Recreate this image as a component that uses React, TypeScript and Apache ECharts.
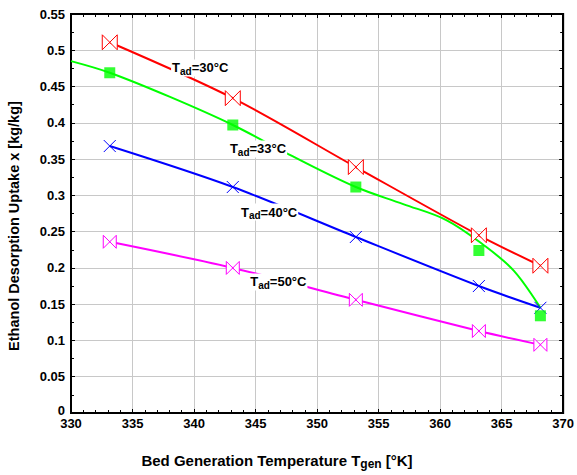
import React, { useEffect, useRef } from "react";
import * as echarts from "echarts";

const temps = [333.15, 343.15, 353.15, 363.15, 368.15];
const uptake30 = [0.511, 0.434, 0.339, 0.245, 0.203];
const uptake33 = [0.469, 0.397, 0.3115, 0.224, 0.134];
const uptake40 = [0.368, 0.3115, 0.2426, 0.175, 0.145];
const uptake50 = [0.236, 0.2, 0.156, 0.113, 0.094];
const fit33T = [330, 333.15, 338, 343.15, 348, 353.15, 357, 360.5, 363.5, 366, 368.15];
const fit33X = [0.485, 0.469, 0.436, 0.397, 0.354, 0.3115, 0.288, 0.266, 0.232, 0.196, 0.145];
const xTicks = { min: 330, max: 370, interval: 5 };
const yTicks = { min: 0, max: 0.55, interval: 0.05 };
const labels = [
  { t: 340.5, v: 0.4756, temp: "30" },
  { t: 345.2, v: 0.364, temp: "33" },
  { t: 346.1, v: 0.277, temp: "40" },
  { t: 346.85, v: 0.1806, temp: "50" },
];

const FONT = "Liberation Sans, Arial, sans-serif";
const bowtie = "path://M0,0L10,10L10,0L0,10Z";
const cross = "path://M0,0L10,10M10,0L0,10";

const pair = (xs: number[], ys: number[]) => xs.map((x, i) => [x, ys[i]]);

export default function App() {
  const ref = useRef<HTMLDivElement>(null);
  useEffect(() => {
    if (!ref.current) return;
    const chart = echarts.init(ref.current, undefined, { renderer: "svg" });
    const axisCommon = {
      type: "value" as const,
      axisLine: { show: true, onZero: false, lineStyle: { color: "#000", width: 2 } },
      axisTick: { show: true, inside: true, length: 4, lineStyle: { color: "#000" } },
      minorTick: { show: true, length: 3, lineStyle: { color: "#000" } },
    };
    const labelStyle = {
      color: "#000",
      fontWeight: "bold" as const,
      fontSize: 13,
      fontFamily: FONT,
    };
    const rich = {
      t: { fontSize: 13, fontWeight: "bold", fontFamily: FONT, color: "#000" },
      s: { fontSize: 10, fontWeight: "bold", fontFamily: FONT, color: "#000", padding: [7, 0, 0, 0] },
    };
    const markData = labels.map((l) => ({
      coord: [l.t, l.v],
      symbolSize: 0,
      label: {
        show: true,
        position: "inside",
        formatter: `{t|T}{s|ad}{t|=${l.temp}°C}`,
        backgroundColor: "#fff",
        padding: [0, 1, 0, 1],
        rich,
      },
    }));
    chart.setOption({
      animation: false,
      grid: { left: 71, right: 10, top: 14, bottom: 62, show: true, borderColor: "#000", borderWidth: 2 },
      xAxis: [
        {
          ...axisCommon,
          ...xTicks,
          position: "bottom",
          minorTick: { ...axisCommon.minorTick, splitNumber: 5 },
          splitLine: { show: true, lineStyle: { color: "#c8c8c8", width: 1 } },
          axisLabel: { ...labelStyle, margin: 4 },
        },
        {
          ...axisCommon,
          ...xTicks,
          position: "top",
          minorTick: { ...axisCommon.minorTick, splitNumber: 5 },
          splitLine: { show: false },
          axisLabel: { show: false },
        },
      ],
      yAxis: [
        {
          ...axisCommon,
          ...yTicks,
          position: "left",
          minorTick: { ...axisCommon.minorTick, splitNumber: 2 },
          splitLine: { show: true, lineStyle: { color: "#c8c8c8", width: 1 } },
          axisLabel: {
            ...labelStyle,
            margin: 6,
            formatter: (v: number) => (v === 0 ? "{z|0}" : String(+v.toFixed(2))),
            rich: { z: { ...labelStyle, padding: [0, 0, 6, 0] } },
          },
        },
        {
          ...axisCommon,
          ...yTicks,
          position: "right",
          minorTick: { ...axisCommon.minorTick, splitNumber: 2 },
          splitLine: { show: false },
          axisLabel: { show: false },
        },
      ],
      series: [
        {
          type: "line",
          data: pair(temps, uptake50),
          smooth: 0.3,
          color: "#ff00ff",
          lineStyle: { color: "#ff00ff", width: 2 },
          symbol: bowtie,
          symbolSize: [13, 13],
          itemStyle: { color: "#fff", borderColor: "#ff00ff", borderWidth: 1 },
          z: 3,
        },
        {
          type: "line",
          data: pair(temps, uptake40),
          smooth: 0.3,
          color: "#0000ff",
          lineStyle: { color: "#0000ff", width: 2 },
          symbol: cross,
          symbolSize: [12, 12],
          itemStyle: { color: "#0000ff", borderColor: "#0000ff", borderWidth: 1 },
          z: 3,
        },
        {
          type: "line",
          data: pair(fit33T, fit33X),
          smooth: 0.35,
          symbol: "none",
          color: "#00ff00",
          lineStyle: { color: "#00ff00", width: 2 },
          z: 3,
        },
        {
          type: "scatter",
          data: pair(temps, uptake33),
          symbol: "rect",
          symbolSize: 11,
          itemStyle: { color: "#00ff00" },
          z: 4,
        },
        {
          type: "line",
          data: pair(temps, uptake30),
          smooth: 0.3,
          color: "#ff0000",
          lineStyle: { color: "#ff0000", width: 2 },
          symbol: bowtie,
          symbolSize: [15, 15],
          itemStyle: { color: "#fff", borderColor: "#ff0000", borderWidth: 1 },
          z: 3,
          markPoint: { symbol: "circle", data: markData, z: 10 },
        },
      ],
      graphic: [
        {
          type: "text",
          x: 277,
          y: 460,
          style: {
            text: "{t|Bed Generation Temperature T}{s|gen}{t| [°K]}",
            align: "center",
            verticalAlign: "middle",
            rich: {
              t: { fontSize: 15, fontWeight: "bold", fontFamily: FONT, fill: "#000" },
              s: { fontSize: 12, fontWeight: "bold", fontFamily: FONT, fill: "#000", padding: [7, 0, 0, 0] },
            },
          },
        },
        {
          type: "text",
          x: 14,
          y: 226,
          rotation: Math.PI / 2,
          style: {
            text: "Ethanol Desorption Uptake x [kg/kg]",
            align: "center",
            verticalAlign: "middle",
            fontSize: 14.5,
            fontWeight: "bold",
            fontFamily: FONT,
            fill: "#000",
          },
        },
      ],
    });
    return () => chart.dispose();
  }, []);
  return <div ref={ref} style={{ width: 577, height: 475, position: "absolute", left: 0, top: 0 }} />;
}
